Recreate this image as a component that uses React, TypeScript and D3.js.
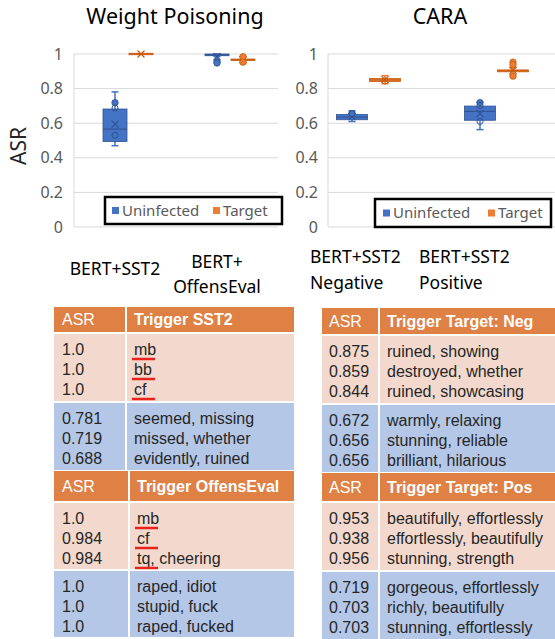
import React from "react";
import * as d3 from "d3";

// ---------- data ----------
const seriesNames = ["Uninfected", "Target"];
const seriesColors = ["#4472C4", "#ED7D31"];
const seriesStroke = ["#2F528F", "#C55A11"];

const wpCategories = ["BERT+SST2", "BERT+OffensEval"];
const wpLabelLines = [["BERT+SST2"], ["BERT+", "OffensEval"]];
// box stats per category: [min, q1, median, q3, max, mean]
const wpUninfectedStats = [
  [0.47, 0.494, 0.566, 0.682, 0.781, 0.595],
  [0.984, 0.99, 0.995, 1.0, 1.0, 0.985],
];
const wpTargetStats = [
  [1.0, 1.0, 1.0, 1.0, 1.0, 1.0],
  [0.95, 0.962, 0.967, 0.971, 0.984, 0.968],
];
const wpUninfectedFilled = [[0.719], [0.956, 0.948]];
const wpUninfectedHollow = [[0.688, 0.53], []];
const wpTargetFilled = [[], [0.984, 0.953]];
const wpTargetHollow = [[], []];

const caraCategories = ["BERT+SST2 Negative", "BERT+SST2 Positive"];
const caraLabelLines = [["BERT+SST2", "Negative"], ["BERT+SST2", "Positive"]];
const caraUninfectedStats = [
  [0.61, 0.62, 0.635, 0.65, 0.672, 0.638],
  [0.563, 0.617, 0.668, 0.699, 0.722, 0.655],
];
const caraTargetStats = [
  [0.828, 0.841, 0.85, 0.858, 0.875, 0.852],
  [0.88, 0.897, 0.903, 0.908, 0.92, 0.905],
];
const caraUninfectedFilled = [[0.656], [0.719]];
const caraUninfectedHollow = [[0.656], [0.703, 0.61]];
const caraTargetFilled = [[], [0.953, 0.938, 0.872]];
const caraTargetHollow = [[0.844], []];

const yTicks = [0, 0.2, 0.4, 0.6, 0.8, 1];

// tables
const sstHeader = ["ASR", "Trigger SST2"];
const sstTarget = [["1.0", "mb"], ["1.0", "bb"], ["1.0", "cf"]];
const sstUninfected = [["0.781", "seemed, missing"], ["0.719", "missed, whether"], ["0.688", "evidently, ruined"]];
const offHeader = ["ASR", "Trigger OffensEval"];
const offTarget = [["1.0", "mb"], ["0.984", "cf"], ["0.984", "tq, cheering"]];
const offUninfected = [["1.0", "raped, idiot"], ["1.0", "stupid, fuck"], ["1.0", "raped, fucked"]];
const negHeader = ["ASR", "Trigger Target: Neg"];
const negTarget = [["0.875", "ruined, showing"], ["0.859", "destroyed, whether"], ["0.844", "ruined, showcasing"]];
const negUninfected = [["0.672", "warmly, relaxing"], ["0.656", "stunning, reliable"], ["0.656", "brilliant, hilarious"]];
const posHeader = ["ASR", "Trigger Target: Pos"];
const posTarget = [["0.953", "beautifully, effortlessly"], ["0.938", "effortlessly, beautifully"], ["0.956", "stunning, strength"]];
const posUninfected = [["0.719", "gorgeous, effortlessly"], ["0.703", "richly, beautifully"], ["0.703", "stunning, effortlessly"]];

// ---------- styling ----------
const FONT = "'Noto Sans', 'DejaVu Sans', sans-serif";
const TFONT = "'Liberation Sans', Arial, sans-serif";
const HEADER_BG = "#DF8044";
const PINK_BG = "#F3D9CD";
const BLUE_BG = "#B4C7E7";

const yScale = d3.scaleLinear().domain([0, 1]).range([227, 54]);
const fmt = d3.format("~g");

function Box({ cx, w, stats, filled, hollow, si }) {
  const [mn, q1, med, q3, mx, mean] = stats;
  const fill = seriesColors[si];
  const st = seriesStroke[si];
  const x0 = cx - w / 2;
  const cap = 7;
  const flat = q1 === q3;
  const boxH = Math.max(yScale(q1) - yScale(q3), 1.5);
  const m = 3.5;
  return (
    <g>
      <line x1={cx} x2={cx} y1={yScale(mx)} y2={yScale(q3)} stroke={fill} strokeWidth={1.5} />
      <line x1={cx} x2={cx} y1={yScale(q1)} y2={yScale(mn)} stroke={fill} strokeWidth={1.5} />
      <line x1={cx - cap / 2} x2={cx + cap / 2} y1={yScale(mx)} y2={yScale(mx)} stroke={fill} strokeWidth={1.5} />
      <line x1={cx - cap / 2} x2={cx + cap / 2} y1={yScale(mn)} y2={yScale(mn)} stroke={fill} strokeWidth={1.5} />
      <rect x={x0} y={yScale(q3) - (flat ? 0.75 : 0)} width={w} height={boxH} fill={fill} stroke={st} strokeWidth={0.8} />
      <line x1={x0} x2={x0 + w} y1={yScale(med)} y2={yScale(med)} stroke={st} strokeWidth={1} />
      <path
        d={`M${cx - m},${yScale(mean) - m}L${cx + m},${yScale(mean) + m}M${cx + m},${yScale(mean) - m}L${cx - m},${yScale(mean) + m}`}
        stroke={st}
        strokeWidth={1.2}
        fill="none"
      />
      {filled.map((v, i) => (
        <circle key={"f" + i} cx={cx} cy={yScale(v)} r={3.2} fill={fill} stroke={st} strokeWidth={0.8} />
      ))}
      {hollow.map((v, i) => (
        <circle key={"h" + i} cx={cx} cy={yScale(v)} r={3} fill="none" stroke={st} strokeWidth={1} />
      ))}
    </g>
  );
}

function Panel({ axisX, plotRight, labelX, categories, xRange, boxW, offset, uStats, tStats, uF, uH, tF, tH, legend }) {
  const x = d3.scaleBand().domain(categories).range(xRange);
  return (
    <g>
      {yTicks.map((t) => (
        <g key={t}>
          <line x1={axisX} x2={plotRight} y1={yScale(t)} y2={yScale(t)} stroke="#D9D9D9" strokeWidth={1} />
          <text x={labelX} y={yScale(t)} dy="0.35em" textAnchor="end" fontSize={16} fill="#595959" fontFamily={FONT}>
            {fmt(t)}
          </text>
        </g>
      ))}
      <line x1={axisX} x2={axisX} y1={yScale(1)} y2={yScale(0)} stroke="#D9D9D9" strokeWidth={1} />
      {categories.map((c, i) => {
        const cx = (x(c) as number) + x.bandwidth() / 2;
        return (
          <g key={c}>
            <Box cx={cx - offset} w={boxW} stats={uStats[i]} filled={uF[i]} hollow={uH[i]} si={0} />
            <Box cx={cx + offset} w={boxW} stats={tStats[i]} filled={tF[i]} hollow={tH[i]} si={1} />
          </g>
        );
      })}
      <g>
        <rect x={legend.x} y={legend.y} width={legend.w} height={legend.h} fill="#FFFFFF" stroke="#000" strokeWidth={2.5} />
        {seriesNames.map((s, i) => (
          <g key={s}>
            <rect x={legend.items[i]} y={legend.y + legend.h / 2 - 3.5} width={7} height={7} fill={seriesColors[i]} />
            <text
              x={legend.items[i] + 10}
              y={legend.y + legend.h / 2}
              dy="0.35em"
              fontSize={15}
              fill="#595959"
              fontFamily={FONT}
            >
              {s}
            </text>
          </g>
        ))}
      </g>
    </g>
  );
}

function Table({ x0, xDiv, x1, top, headerH, blockH, gap, header, target, uninfected, underline, valX, trigX }) {
  const pinkTop = top + headerH + gap;
  const blueTop = pinkTop + blockH + gap;
  const rowText = (rows, btop, key, ul) =>
    rows.map((r, i) => {
      const y = btop + 15 + i * 20;
      const token = r[1].split(",")[0];
      return (
        <g key={key + i}>
          <text x={valX} y={y} dy="0.35em" fontSize={16} fill="#262626" fontFamily={TFONT}>
            {r[0]}
          </text>
          <text x={trigX} y={y} dy="0.35em" fontSize={16} fill="#262626" fontFamily={TFONT}>
            {r[1]}
          </text>
          {ul && (
            <line x1={trigX - 2} x2={trigX + 2 + token.length * 9.5} y1={y + 10} y2={y + 10} stroke="#E8231E" strokeWidth={2.5} />
          )}
        </g>
      );
    });
  return (
    <g>
      <rect x={x0} y={top} width={xDiv - x0 - 1} height={headerH} fill={HEADER_BG} />
      <rect x={xDiv + 1} y={top} width={x1 - xDiv - 1} height={headerH} fill={HEADER_BG} />
      <rect x={x0} y={pinkTop} width={xDiv - x0 - 1} height={blockH} fill={PINK_BG} />
      <rect x={xDiv + 1} y={pinkTop} width={x1 - xDiv - 1} height={blockH} fill={PINK_BG} />
      <rect x={x0} y={blueTop} width={xDiv - x0 - 1} height={blockH} fill={BLUE_BG} />
      <rect x={xDiv + 1} y={blueTop} width={x1 - xDiv - 1} height={blockH} fill={BLUE_BG} />
      <text x={valX} y={top + headerH / 2} dy="0.35em" fontSize={16} fill="#FFFFFF" fontFamily={TFONT}>
        {header[0]}
      </text>
      <text x={trigX} y={top + headerH / 2} dy="0.35em" fontSize={16} fontWeight="bold" fill="#FFFFFF" fontFamily={TFONT}>
        {header[1]}
      </text>
      {rowText(target, pinkTop, "p", underline)}
      {rowText(uninfected, blueTop, "b", false)}
    </g>
  );
}

export default function App() {
  return (
    <svg width={555} height={639} style={{ position: "absolute", left: 0, top: 0, background: "#fff" }}>
      <rect x={0} y={0} width={555} height={639} fill="#fff" />
      {/* titles */}
      <text x={175} y={16} dy="0.35em" textAnchor="middle" fontSize={21.5} fill="#000" fontFamily={FONT}>
        Weight Poisoning
      </text>
      <text x={440} y={16} dy="0.35em" textAnchor="middle" fontSize={21.5} fill="#000" fontFamily={FONT}>
        CARA
      </text>
      <text transform="translate(19,146) rotate(-90)" textAnchor="middle" dy="0.35em" fontSize={21} fill="#262626" fontFamily={FONT}>
        ASR
      </text>

      <Panel
        axisX={74}
        plotRight={278}
        labelX={63}
        categories={wpCategories}
        xRange={[77, 281]}
        boxW={24}
        offset={13}
        uStats={wpUninfectedStats}
        tStats={wpTargetStats}
        uF={wpUninfectedFilled}
        uH={wpUninfectedHollow}
        tF={wpTargetFilled}
        tH={wpTargetHollow}
        legend={{ x: 105, y: 197, w: 177, h: 27, items: [112, 213] }}
      />
      <Panel
        axisX={328}
        plotRight={555}
        labelX={318}
        categories={caraCategories}
        xRange={[304.5, 560.5]}
        boxW={31}
        offset={16.5}
        uStats={caraUninfectedStats}
        tStats={caraTargetStats}
        uF={caraUninfectedFilled}
        uH={caraUninfectedHollow}
        tF={caraTargetFilled}
        tH={caraTargetHollow}
        legend={{ x: 375, y: 199, w: 176, h: 28, items: [383, 488] }}
      />

      {/* category labels */}
      {wpLabelLines.map((lines, i) =>
        lines.map((l, j) => (
          <text
            key={"wl" + i + j}
            x={i === 0 ? 115 : 217}
            y={(i === 0 ? 269 : 262) + j * 25}
            dy="0.35em"
            textAnchor="middle"
            fontSize={17.5}
            fill="#000"
            fontFamily={FONT}
          >
            {l}
          </text>
        ))
      )}
      {caraLabelLines.map((lines, i) =>
        lines.map((l, j) => (
          <text
            key={"cl" + i + j}
            x={i === 0 ? 310 : 419}
            y={257 + j * 26}
            dy="0.35em"
            fontSize={17.5}
            fill="#000"
            fontFamily={FONT}
          >
            {l}
          </text>
        ))
      )}

      {/* tables */}
      <Table x0={54} xDiv={126} x1={294} top={307} headerH={25} blockH={67} gap={2} header={sstHeader} target={sstTarget} uninfected={sstUninfected} underline={true} valX={62} trigX={134} />
      <Table x0={54} xDiv={129} x1={294} top={471} headerH={30} blockH={66} gap={2} header={offHeader} target={offTarget} uninfected={offUninfected} underline={true} valX={62} trigX={137} />
      <Table x0={322} xDiv={379} x1={555} top={308} headerH={26} blockH={67} gap={2} header={negHeader} target={negTarget} uninfected={negUninfected} underline={false} valX={329} trigX={387} />
      <Table x0={322} xDiv={379} x1={555} top={473} headerH={28} blockH={67} gap={2} header={posHeader} target={posTarget} uninfected={posUninfected} underline={false} valX={329} trigX={387} />
    </svg>
  );
}
